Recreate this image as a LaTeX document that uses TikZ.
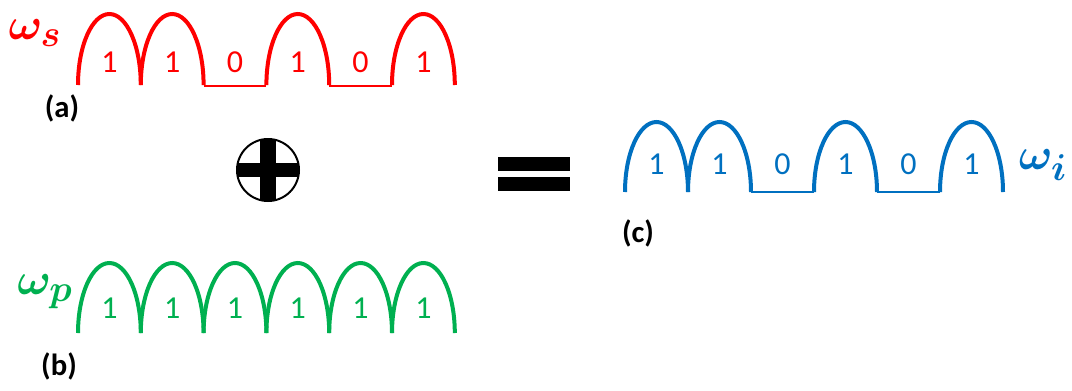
\documentclass[tikz,border=0pt]{standalone}
\usepackage{bm}
\usepackage{fontspec}
\setmainfont{Carlito}
\definecolor{sred}{HTML}{FF0000}
\definecolor{pgreen}{HTML}{00B050}
\definecolor{iblue}{HTML}{0070C0}
\tikzset{
  archline/.style={line width=3pt},
  baseline0/.style={line width=1.4pt},
  digit/.style={inner sep=0pt, font=\fontsize{24}{28}\selectfont},
  sublabel/.style={inner sep=0pt, font=\fontsize{23}{26}\selectfont\bfseries},
  omegalabel/.style={inner sep=0pt, scale=1.35, font=\fontsize{24.88}{30}\selectfont},
  symbolfill/.style={fill=black, draw=none}
}
\begin{document}
\begin{tikzpicture}[x=0.75pt,y=-0.75pt]
\useasboundingbox (0,0) rectangle (1072,390);
% (a) signal
\foreach \b [count=\i from 0] in {1,1,0,1,0,1} {
  \pgfmathsetmacro\xa{78+\i*62.8}
  \pgfmathsetmacro\xb{\xa+62.8}
  \ifnum\b=1
    \draw[archline,sred] (\xa,85) arc[start angle=180, end angle=360, x radius=31.4, y radius=71];
  \else
    \draw[baseline0,sred] (\xa,86) -- (\xb,86);
  \fi
  \node[digit,text=sred] (s\i) at ({\xa+31.4},62) {\b};
}
\node[omegalabel,text=sred] (ws) at (35,33) {$\bm{\omega_s}$};
\node[sublabel] (la) at (62,108) {(a)};
% (b) pump
\foreach \b [count=\i from 0] in {1,1,1,1,1,1} {
  \pgfmathsetmacro\xa{78+\i*62.8}
  \draw[archline,pgreen] (\xa,333) arc[start angle=180, end angle=360, x radius=31.4, y radius=70];
  \node[digit,text=pgreen] (p\i) at ({\xa+31.4},308) {\b};
}
\node[omegalabel,text=pgreen] (wp) at (45,292) {$\bm{\omega_p}$};
\node[sublabel] (lb) at (59,366) {(b)};
% (c) idler
\foreach \b [count=\i from 0] in {1,1,0,1,0,1} {
  \pgfmathsetmacro\xa{625+\i*63}
  \pgfmathsetmacro\xb{\xa+63}
  \ifnum\b=1
    \draw[archline,iblue] (\xa,192) arc[start angle=180, end angle=360, x radius=31.5, y radius=70];
  \else
    \draw[baseline0,iblue] (\xa,192) -- (\xb,192);
  \fi
  \node[digit,text=iblue] (c\i) at ({\xa+31.5},164) {\b};
}
\node[omegalabel,text=iblue] (wi) at (1043,165) {$\bm{\omega_i}$};
\node[sublabel] (lc) at (638,233) {(c)};
% oplus
\coordinate (oplus) at (268,170);
\begin{scope}
  \clip (oplus) circle (31);
  \fill[symbolfill] (236,163) rectangle (300,177);
  \fill[symbolfill] (260,138) rectangle (276,202);
\end{scope}
\draw[line width=1.5pt] (oplus) circle (31);
% equals
\fill[symbolfill] (498,157) rectangle (570,171);
\fill[symbolfill] (498,177) rectangle (570,191);
\end{tikzpicture}
\end{document}
